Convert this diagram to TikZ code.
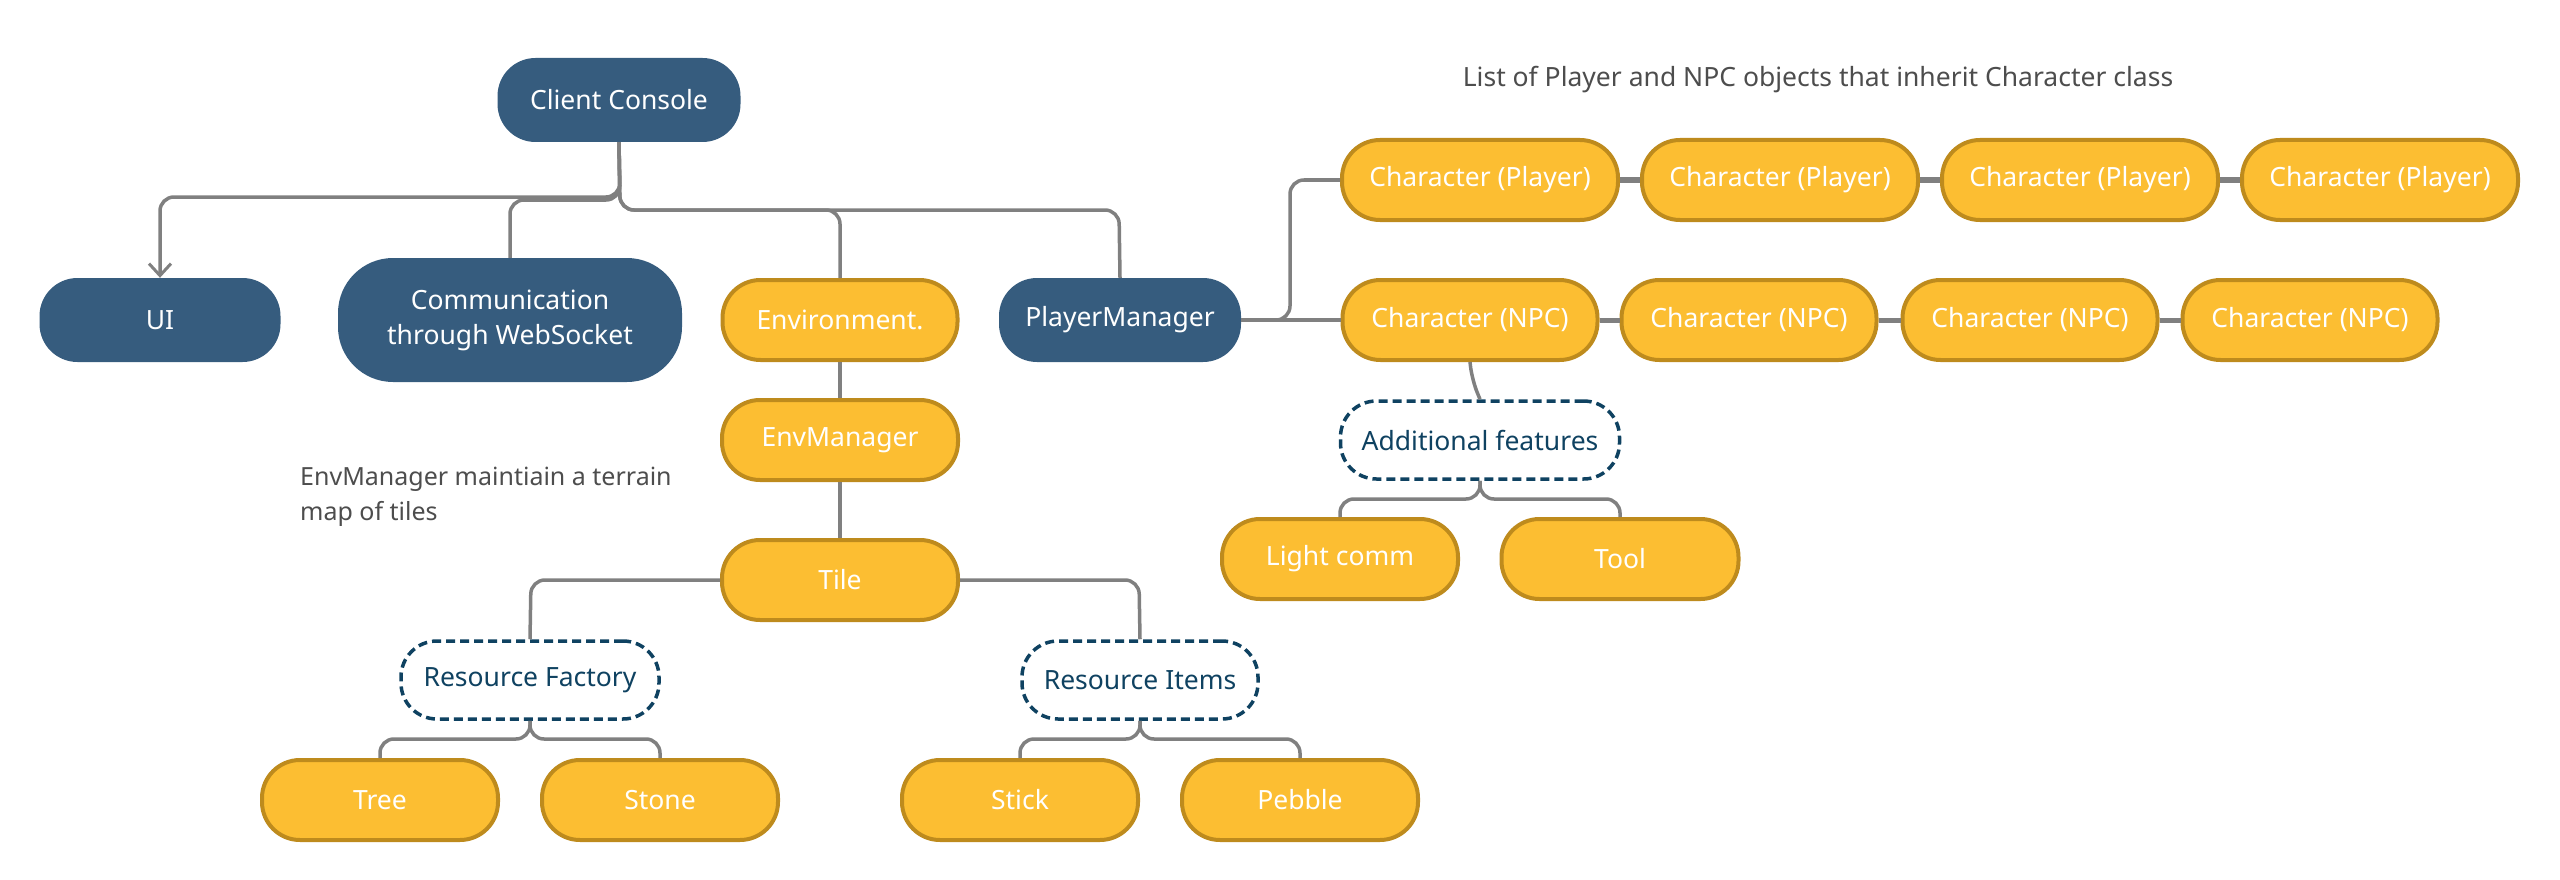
\documentclass[tikz,border=0pt]{standalone}
\usepackage{fontspec}
\setmainfont{Noto Sans}
\usetikzlibrary{arrows.meta}
\definecolor{cblue}{HTML}{365C7E}
\definecolor{cyel}{HTML}{FCBE32}
\definecolor{cyelb}{HTML}{BE8B1D}
\definecolor{cdash}{HTML}{0F4261}
\definecolor{cline}{HTML}{808080}
\definecolor{cnote}{HTML}{4D4D4D}
\tikzset{
  txt/.style={font=\fontsize{26.5}{35}\selectfont, align=center, inner sep=0pt},
  bluebox/.style={txt, fill=cblue, text=white, rounded corners=38pt, minimum height=84pt},
  yelbox/.style={txt, fill=cyel, draw=cyelb, line width=4pt, text=white, rounded corners=38pt, minimum height=80pt},
  dashbox/.style={txt, fill=white, draw=cdash, line width=3.5pt, dash pattern=on 9pt off 5pt, text=cdash, rounded corners=36pt, minimum height=78pt},
  notetext/.style={font=\fontsize{26.5}{35}\selectfont, text=cnote, inner sep=0pt},
  conn/.style={draw=cline, line width=3.5pt, rounded corners=14pt},
  link/.style={draw=cline, line width=5pt},
}
\begin{document}
\begin{tikzpicture}[x=1pt,y=-1pt]
\useasboundingbox (0,0) rectangle (2560,880);
% nodes
\node[bluebox, minimum width=243pt] (cc) at (619,100) {Client Console};
\node[bluebox, minimum width=241pt] (ui) at (160,320) {UI};
\node[bluebox, minimum width=344pt, minimum height=124pt, rounded corners=55pt] (comm) at (510,320) {Communication\\through WebSocket};
\node[yelbox, minimum width=235pt] (env) at (840,320) {Environment.};
\node[bluebox, minimum width=242pt] (pm) at (1120,320) {PlayerManager};
\node[yelbox, minimum width=276pt] (p1) at (1480,180) {Character (Player)};
\node[yelbox, minimum width=276pt] (p2) at (1780,180) {Character (Player)};
\node[yelbox, minimum width=276pt] (p3) at (2080,180) {Character (Player)};
\node[yelbox, minimum width=276pt] (p4) at (2380,180) {Character (Player)};
\node[yelbox, minimum width=255pt] (n1) at (1470,320) {Character (NPC)};
\node[yelbox, minimum width=255pt] (n2) at (1749,320) {Character (NPC)};
\node[yelbox, minimum width=255pt] (n3) at (2030,320) {Character (NPC)};
\node[yelbox, minimum width=255pt] (n4) at (2310,320) {Character (NPC)};
\node[notetext] (title) at (1818,80) {List of Player and NPC objects that inherit Character class};
\node[dashbox, minimum width=279pt] (af) at (1480,440) {Additional features};
\node[yelbox, minimum width=236pt] (lc) at (1340,559) {Light comm};
\node[yelbox, minimum width=237pt] (tool) at (1620,559) {Tool};
\node[yelbox, minimum width=236pt] (em) at (840,440) {EnvManager};
\node[notetext, anchor=west, align=left, font=\fontsize{25}{35}\selectfont] (note) at (300,497) {EnvManager maintiain a terrain\\map of tiles};
\node[yelbox, minimum width=236pt] (tile) at (840,580) {Tile};
\node[dashbox, minimum width=258pt] (rf) at (530,680) {Resource Factory};
\node[dashbox, minimum width=236pt] (ri) at (1140,680) {Resource Items};
\node[yelbox, minimum width=236pt] (tree) at (380,800) {Tree};
\node[yelbox, minimum width=236pt] (stone) at (660,800) {Stone};
\node[yelbox, minimum width=236pt] (stick) at (1020,800) {Stick};
\node[yelbox, minimum width=236pt] (pebble) at (1300,800) {Pebble};
% connectors from Client Console
\draw[conn, -{Straight Barb[length=12pt,width=22pt,line width=3pt]}] (cc.south) -- (620,197) -- (160,197) -- (ui.north);
\draw[conn] (cc.south) -- (620,200) -- (510,200) -- (comm.north);
\draw[conn] (cc.south) -- (620,210) -- (840,210) -- (env.north);
\draw[conn] (cc.south) -- (620,210) -- (1119,210) -- (pm.north);
% PlayerManager
\draw[conn] (pm.east) -- (1290,320) -- (1290,180) -- (p1.west);
\draw[conn] (pm.east) -- (1285,320) -- (n1.west);
\draw[link] (p1.east) -- (p2.west);
\draw[link] (p2.east) -- (p3.west);
\draw[link] (p3.east) -- (p4.west);
\draw[link] (n1.east) -- (n2.west);
\draw[link] (n2.east) -- (n3.west);
\draw[link] (n3.east) -- (n4.west);
\draw[conn] (n1.south) -- (1472,380) -- (af.north);
\draw[conn] (af.south) -- (1480,499) -- (1340,499) -- (lc.north);
\draw[conn] (af.south) -- (1480,499) -- (1620,499) -- (tool.north);
% Environment
\draw[conn] (env.south) -- (em.north);
\draw[conn] (em.south) -- (tile.north);
\draw[conn] (tile.west) -- (531,580) -- (rf.north);
\draw[conn] (tile.east) -- (1139,580) -- (ri.north);
\draw[conn] (rf.south) -- (530,739) -- (380,739) -- (tree.north);
\draw[conn] (rf.south) -- (530,739) -- (660,739) -- (stone.north);
\draw[conn] (ri.south) -- (1140,739) -- (1020,739) -- (stick.north);
\draw[conn] (ri.south) -- (1140,739) -- (1300,739) -- (pebble.north);
\end{tikzpicture}
\end{document}
